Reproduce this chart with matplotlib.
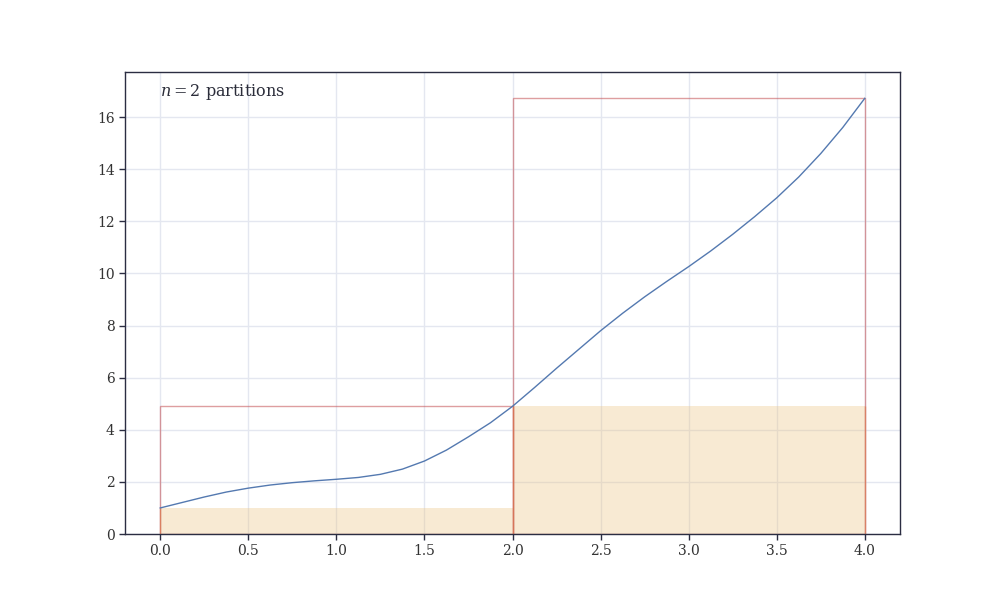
"""Lower and upper Riemann sums for n = 2 partitions."""

import matplotlib
matplotlib.use("Agg")
import matplotlib.pyplot as plt


# curve samples
x_curve = [0.0, 0.125, 0.25, 0.375, 0.5, 0.625, 0.75, 0.875,
           1.0, 1.125, 1.25, 1.375, 1.5, 1.625, 1.75, 1.875,
           2.0, 2.125, 2.25, 2.375, 2.5, 2.625, 2.75, 2.875,
           3.0, 3.125, 3.25, 3.375, 3.5, 3.625, 3.75, 3.875, 4.0]
y_curve = [1.00, 1.21, 1.42, 1.61, 1.76, 1.88, 1.97, 2.04,
           2.10, 2.17, 2.29, 2.49, 2.80, 3.22, 3.73, 4.27,
           4.90, 5.62, 6.36, 7.08, 7.80, 8.47, 9.10, 9.69,
           10.26, 10.86, 11.50, 12.18, 12.90, 13.70, 14.60, 15.60, 16.72]

# partitions
part_left = [0.0, 2.0]
part_width = [2.0, 2.0]
lower_heights = [1.00, 4.90]
upper_heights = [4.90, 16.72]

n_parts = 2

plt.rcParams["font.family"] = ["DejaVu Serif"]
plt.rcParams["mathtext.fontset"] = "dejavuserif"

fig = plt.figure(figsize=(10, 6), dpi=100)
ax = fig.add_subplot(111)

ax.set_axisbelow(True)
ax.grid(True, color="#e4e7f0", linewidth=1)

# lower sums, filled
ax.bar(part_left, lower_heights, width=part_width, align="edge",
       color="#ebbf78", alpha=0.32, linewidth=0)
ax.vlines(part_left, 0, lower_heights, color="#dd7a52", alpha=0.7, linewidth=1)
ax.vlines([4.0], 0, lower_heights[-1], color="#dd7a52", alpha=0.7, linewidth=1)

# upper sums, outlined
ax.bar(part_left, upper_heights, width=part_width, align="edge",
       fill=False, edgecolor="#c44e52", alpha=0.55, linewidth=1)

ax.plot(x_curve, y_curve, color="#5479b0", linewidth=1)

ax.text(0.045, 0.979, f"$n = {n_parts}$ partitions", transform=ax.transAxes,
        fontsize=11.5, va="top", ha="left", color="#2b2d3a")

ax.set_xlim(-0.2, 4.2)
ax.set_ylim(0, 17.73)
ax.set_xticks([0.0, 0.5, 1.0, 1.5, 2.0, 2.5, 3.0, 3.5, 4.0])
ax.set_yticks(range(0, 17, 2))

for spine in ax.spines.values():
    spine.set_color("#2b2d42")
    spine.set_linewidth(1)
ax.tick_params(colors="#2b2d42", labelcolor="#333333", labelsize=10,
               length=4, width=1)

fig.savefig("out.png", dpi=100)
